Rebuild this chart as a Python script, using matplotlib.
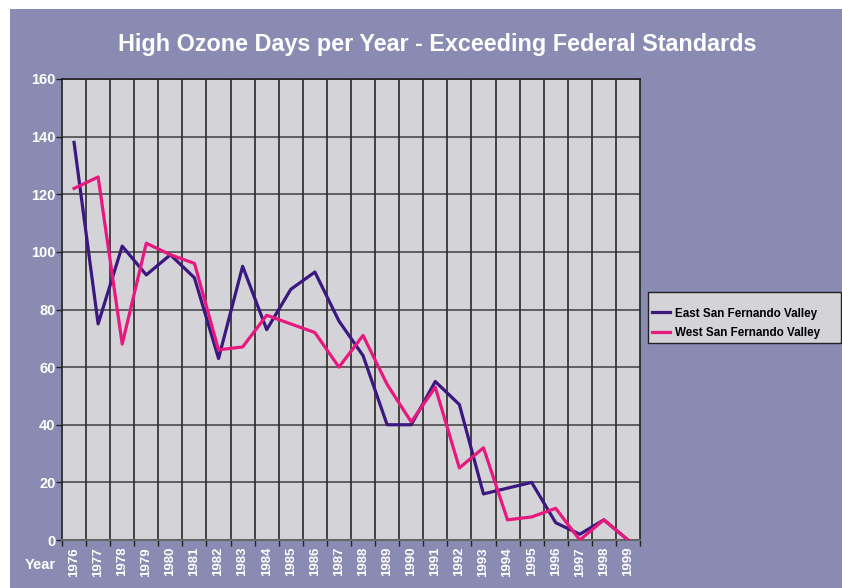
import matplotlib
matplotlib.use("Agg")
import matplotlib.pyplot as plt
from matplotlib.patches import Rectangle
import numpy as np

years = [str(y) for y in range(1976, 2000)]
east = [138, 75, 102, 92, 99, 91, 63, 95, 73, 87, 93, 76, 64, 40, 40, 55, 47, 16, 18, 20, 6, 2, 7, 0]
west = [122, 126, 68, 103, 99, 96, 66, 67, 78, 75, 72, 60, 71, 54, 41, 53, 25, 32, 7, 8, 11, 0, 7, 0]

plt.rcParams['font.family'] = ['Liberation Sans', 'DejaVu Sans']

W, H = 842, 588
fig = plt.figure(figsize=(W / 100, H / 100), dpi=100, facecolor='white')
bg = '#8A8BB3'
fig.patches.append(Rectangle((10 / W, 0), 1 - 10 / W, 1 - 9 / H, transform=fig.transFigure,
                             facecolor=bg, edgecolor='none', zorder=-10))

ax = fig.add_axes([62 / W, 1 - 540 / H, (640 - 62) / W, (540 - 79) / H])
ax.set_facecolor('#D3D3D8')

x = np.arange(len(years))
ax.plot(x, east, color='#3B1780', lw=2.3, label='East San Fernando Valley', zorder=3)
ax.plot(x, west, color='#E8197E', lw=2.3, label='West San Fernando Valley', zorder=3)

ax.set_xlim(-0.5, len(years) - 0.5)
ax.set_ylim(0, 160)
ax.set_yticks(np.arange(0, 161, 20))
ax.set_xticks(x)
ax.set_xticklabels(years, rotation=90, color='white', fontsize=9.5, fontweight='bold')
ax.set_xticks(np.arange(-0.5, len(years), 1), minor=True)
ax.tick_params(axis='x', which='major', length=0, pad=5)
ax.tick_params(axis='x', which='minor', length=4, color='#222222', width=1)
ax.tick_params(axis='y', length=4, color='#222222', width=1, labelcolor='white', labelsize=10.5, pad=0.5)
for lab in ax.get_yticklabels():
    lab.set_fontweight('bold')

for v in np.arange(20, 161, 20):
    ax.axhline(v, color='#555555', lw=1.3, zorder=1)
for v in np.arange(0.5, len(years) - 0.5, 1):
    ax.axvline(v, color='#2a2a2a', lw=1.2, zorder=1)

for s in ['top', 'right', 'left']:
    ax.spines[s].set_color('#222222')
    ax.spines[s].set_linewidth(1.2)
ax.spines['bottom'].set_color('#666666')
ax.spines['bottom'].set_linewidth(1.5)

fig.text(437 / W, 1 - 45 / H, 'High Ozone Days per Year - Exceeding Federal Standards',
         ha='center', va='center', color='white', fontsize=16.8, fontweight='bold')
fig.text(40 / W, 1 - 565 / H, 'Year', ha='center', va='center', color='white',
         fontsize=10.5, fontweight='bold')

# legend box
fig.patches.append(Rectangle((648 / W, 1 - 343 / H), (841 - 648) / W, (343 - 292) / H,
                             transform=fig.transFigure, facecolor='#D3D3D8',
                             edgecolor='#222222', lw=1.0, zorder=5))
leg = fig.legend(loc='upper left', bbox_to_anchor=(652 / W, 1 - 307.5 / H),
                 bbox_transform=fig.transFigure, frameon=False,
                 prop={'weight': 'bold', 'size': 8.4}, handlelength=1.55,
                 borderpad=0, borderaxespad=0, labelspacing=0.62, handletextpad=0.45)
leg.set_zorder(6)

fig.savefig('out.png', dpi=100, facecolor='white')
